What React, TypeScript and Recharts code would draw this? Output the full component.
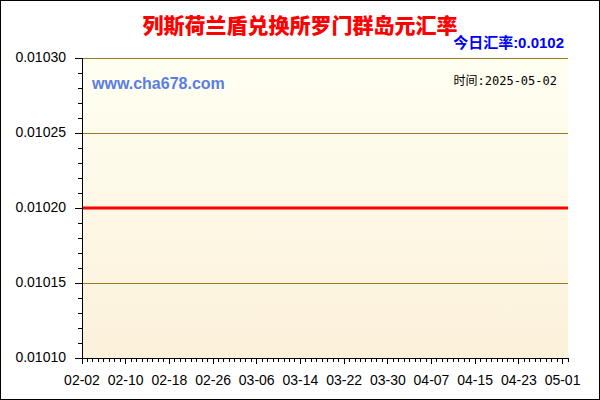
import React from "react";
import {
  LineChart,
  Line,
  XAxis,
  YAxis,
  ReferenceLine,
  ReferenceArea,
} from "recharts";

const dates = [
  "02-02", "02-03", "02-04", "02-05", "02-06", "02-07", "02-08", "02-09", "02-10", "02-11",
  "02-12", "02-13", "02-14", "02-15", "02-16", "02-17", "02-18", "02-19", "02-20", "02-21",
  "02-22", "02-23", "02-24", "02-25", "02-26", "02-27", "02-28", "03-01", "03-02", "03-03",
  "03-04", "03-05", "03-06", "03-07", "03-08", "03-09", "03-10", "03-11", "03-12", "03-13",
  "03-14", "03-15", "03-16", "03-17", "03-18", "03-19", "03-20", "03-21", "03-22", "03-23",
  "03-24", "03-25", "03-26", "03-27", "03-28", "03-29", "03-30", "03-31", "04-01", "04-02",
  "04-03", "04-04", "04-05", "04-06", "04-07", "04-08", "04-09", "04-10", "04-11", "04-12",
  "04-13", "04-14", "04-15", "04-16", "04-17", "04-18", "04-19", "04-20", "04-21", "04-22",
  "04-23", "04-24", "04-25", "04-26", "04-27", "04-28", "04-29", "04-30", "05-01", "05-02",
];

const rates = [
  0.0102, 0.0102, 0.0102, 0.0102, 0.0102, 0.0102, 0.0102, 0.0102, 0.0102, 0.0102,
  0.0102, 0.0102, 0.0102, 0.0102, 0.0102, 0.0102, 0.0102, 0.0102, 0.0102, 0.0102,
  0.0102, 0.0102, 0.0102, 0.0102, 0.0102, 0.0102, 0.0102, 0.0102, 0.0102, 0.0102,
  0.0102, 0.0102, 0.0102, 0.0102, 0.0102, 0.0102, 0.0102, 0.0102, 0.0102, 0.0102,
  0.0102, 0.0102, 0.0102, 0.0102, 0.0102, 0.0102, 0.0102, 0.0102, 0.0102, 0.0102,
  0.0102, 0.0102, 0.0102, 0.0102, 0.0102, 0.0102, 0.0102, 0.0102, 0.0102, 0.0102,
  0.0102, 0.0102, 0.0102, 0.0102, 0.0102, 0.0102, 0.0102, 0.0102, 0.0102, 0.0102,
  0.0102, 0.0102, 0.0102, 0.0102, 0.0102, 0.0102, 0.0102, 0.0102, 0.0102, 0.0102,
  0.0102, 0.0102, 0.0102, 0.0102, 0.0102, 0.0102, 0.0102, 0.0102, 0.0102, 0.0102,
];

const yMajorTicks = [0.0101, 0.01015, 0.0102, 0.01025, 0.0103];
const xMajorEvery = 8;
const yMinorPerMajor = 5;

const title = "列斯荷兰盾兑换所罗门群岛元汇率";
const todayLabel = "今日汇率:0.0102";
const siteLabel = "www.cha678.com";
const timeLabel = "时间:2025-05-02";

const data = dates.map((d, i) => ({ date: d, rate: rates[i] }));

const yAllTicks: number[] = [];
for (let i = 0; i < yMajorTicks.length - 1; i++) {
  const a = yMajorTicks[i];
  const b = yMajorTicks[i + 1];
  for (let k = 0; k < yMinorPerMajor; k++) {
    yAllTicks.push(a + ((b - a) * k) / yMinorPerMajor);
  }
}
yAllTicks.push(yMajorTicks[yMajorTicks.length - 1]);

const FONT = "'Liberation Sans', Arial, sans-serif";
const GRID = "#9C7A1E";

const BottomTick = (props: any) => {
  const { x, y, index, payload } = props;
  const major = index % xMajorEvery === 0;
  return (
    <g>
      <line
        x1={x}
        x2={x}
        y1={y}
        y2={y + (major ? 6 : 4)}
        stroke="#000"
        strokeWidth={1}
        shapeRendering="crispEdges"
      />
      {major && (
        <text
          x={x}
          y={y + 27}
          textAnchor="middle"
          fontFamily={FONT}
          fontSize={14}
          fill="#000"
        >
          {payload.value}
        </text>
      )}
    </g>
  );
};

const TopTick = (props: any) => {
  const { x, y, index } = props;
  const major = index % xMajorEvery === 0;
  return (
    <line
      x1={x}
      x2={x}
      y1={y}
      y2={y + (major ? 5 : 3)}
      stroke="#000"
      strokeWidth={1}
      shapeRendering="crispEdges"
    />
  );
};

const LeftTick = (props: any) => {
  const { x, y, index, payload } = props;
  const major = index % yMinorPerMajor === 0;
  return (
    <g>
      <line
        x1={x - (major ? 7 : 4)}
        x2={x}
        y1={y}
        y2={y}
        stroke="#000"
        strokeWidth={1}
        shapeRendering="crispEdges"
      />
      {major && (
        <text
          x={x - 16}
          y={y + 4}
          textAnchor="end"
          fontFamily={FONT}
          fontSize={14}
          fill="#000"
        >
          {Number(payload.value).toFixed(5)}
        </text>
      )}
    </g>
  );
};

const RightTick = (props: any) => {
  const { x, y, index } = props;
  const major = index % yMinorPerMajor === 0;
  return (
    <line
      x1={x - (major ? 5 : 3)}
      x2={x}
      y1={y}
      y2={y}
      stroke="#000"
      strokeWidth={1}
      shapeRendering="crispEdges"
    />
  );
};

export default function App() {
  return (
    <div
      style={{
        position: "relative",
        width: 600,
        height: 400,
        background: "#fff",
        overflow: "hidden",
      }}
    >
      <style>{`body{margin:0}`}</style>
      <LineChart
        width={600}
        height={400}
        data={data}
        margin={{ top: 58, right: 32, bottom: 0, left: 0 }}
      >
        <defs>
          <linearGradient id="bgGrad" x1="0" y1="0" x2="0" y2="1">
            <stop offset="0%" stopColor="#FFFFF2" />
            <stop offset="100%" stopColor="#FCF1DA" />
          </linearGradient>
        </defs>
        <XAxis
          xAxisId="b"
          dataKey="date"
          orientation="bottom"
          height={42}
          ticks={dates}
          interval={0}
          tickSize={0}
          tickMargin={0}
          tickLine={false}
          axisLine={{ stroke: "#000", strokeWidth: 1, shapeRendering: "crispEdges" }}
          tick={<BottomTick />}
        />
        <XAxis
          xAxisId="t"
          dataKey="date"
          orientation="top"
          height={0}
          ticks={dates}
          interval={0}
          tickSize={0}
          tickMargin={0}
          tickLine={false}
          axisLine={{ stroke: "#000", strokeWidth: 1, shapeRendering: "crispEdges" }}
          tick={<TopTick />}
        />
        <YAxis
          yAxisId="l"
          orientation="left"
          width={82}
          type="number"
          domain={[yMajorTicks[0], yMajorTicks[yMajorTicks.length - 1]]}
          ticks={yAllTicks}
          interval={0}
          tickSize={0}
          tickMargin={0}
          tickLine={false}
          axisLine={{ stroke: "#000", strokeWidth: 1, shapeRendering: "crispEdges" }}
          tick={<LeftTick />}
        />
        <YAxis
          yAxisId="r"
          orientation="right"
          width={0}
          type="number"
          domain={[yMajorTicks[0], yMajorTicks[yMajorTicks.length - 1]]}
          ticks={yAllTicks}
          interval={0}
          tickSize={0}
          tickMargin={0}
          tickLine={false}
          axisLine={{ stroke: "#000", strokeWidth: 1, shapeRendering: "crispEdges" }}
          tick={<RightTick />}
        />
        <ReferenceArea
          xAxisId="b"
          yAxisId="l"
          y1={yMajorTicks[0]}
          y2={yMajorTicks[yMajorTicks.length - 1]}
          fill="url(#bgGrad)"
          fillOpacity={1}
          stroke="none"
          ifOverflow="visible"
        />
        {yMajorTicks.map((v) => (
          <ReferenceLine
            key={v}
            xAxisId="b"
            yAxisId="l"
            y={v}
            stroke={GRID}
            strokeWidth={1}
            shapeRendering="crispEdges"
            ifOverflow="visible"
          />
        ))}
        <Line
          xAxisId="b"
          yAxisId="l"
          type="linear"
          dataKey="rate"
          stroke="#FF0000"
          strokeWidth={3}
          dot={false}
          activeDot={false}
          isAnimationActive={false}
        />
      </LineChart>
      <div
        style={{
          position: "absolute",
          left: 0,
          width: 600,
          top: 12,
          lineHeight: "24px",
          textAlign: "center",
          fontFamily: "'Noto Sans CJK SC', sans-serif",
          fontWeight: 900,
          fontSize: 21,
          color: "#FF0000",
        }}
      >
        {title}
      </div>
      <div
        style={{
          position: "absolute",
          right: 36,
          top: 35,
          lineHeight: "16px",
          fontFamily: "'Liberation Sans', 'Noto Sans CJK SC', sans-serif",
          fontWeight: 700,
          fontSize: 15,
          color: "#0000FF",
          whiteSpace: "nowrap",
        }}
      >
        {todayLabel}
      </div>
      <div
        style={{
          position: "absolute",
          left: 92,
          top: 76,
          lineHeight: "16px",
          fontFamily: "'Liberation Sans', Arial, sans-serif",
          fontWeight: 700,
          fontSize: 16,
          color: "#5A7DE6",
          whiteSpace: "nowrap",
        }}
      >
        {siteLabel}
      </div>
      <div
        style={{
          position: "absolute",
          right: 43,
          top: 74,
          lineHeight: "14px",
          fontFamily: "'DejaVu Sans Mono', 'Noto Sans CJK SC', monospace",
          fontSize: 12,
          color: "#000",
          whiteSpace: "nowrap",
        }}
      >
        {timeLabel}
      </div>
      <div
        style={{
          position: "absolute",
          left: 0,
          top: 0,
          width: 600,
          height: 400,
          boxSizing: "border-box",
          border: "1px solid #000",
          pointerEvents: "none",
        }}
      />
    </div>
  );
}
